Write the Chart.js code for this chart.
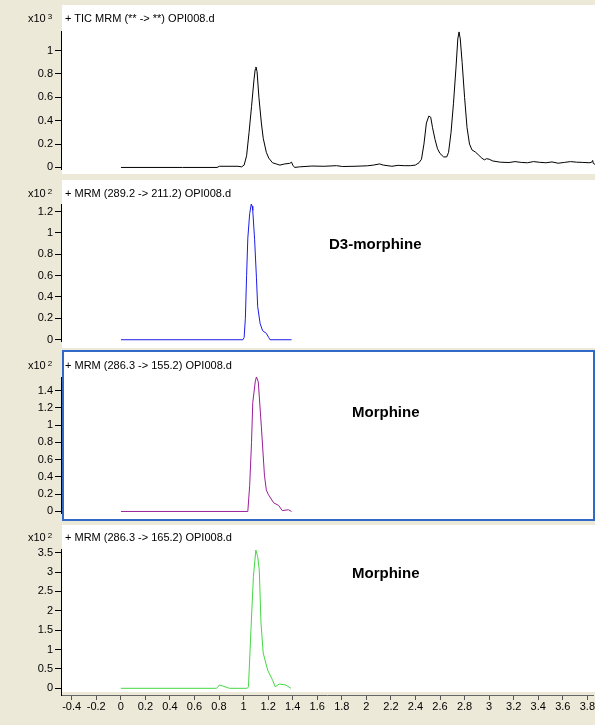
<!DOCTYPE html>
<html>
<head>
<meta charset="utf-8">
<script src="https://cdn.jsdelivr.net/npm/chart.js@4.4.1/dist/chart.umd.min.js"></script>
<style>
html,body{margin:0;padding:0;background:#ECE9D8;width:595px;height:725px;overflow:hidden;position:relative;}
canvas{position:absolute;left:0;}
.t{position:absolute;font:11px "Liberation Sans",Arial,sans-serif;color:#000;white-space:nowrap;line-height:13px;}
.t sup{font-size:8px;vertical-align:top;position:relative;top:-2px;margin-left:2px;}
.b{position:absolute;font:bold 15px "Liberation Sans",Arial,sans-serif;color:#000;white-space:nowrap;line-height:18px;}
</style>
</head>
<body>
<canvas id="c1" width="595" height="178" style="top:0px"></canvas>
<canvas id="c2" width="595" height="172" style="top:178px"></canvas>
<canvas id="c3" width="595" height="174" style="top:348px"></canvas>
<canvas id="c4" width="595" height="203" style="top:522px"></canvas>

<div class="t" style="left:28px;top:12px">x10<sup>3</sup></div>
<div class="t" style="left:65px;top:12px">+ TIC MRM (** -&gt; **) OPI008.d</div>
<div class="t" style="left:28px;top:187px">x10<sup>2</sup></div>
<div class="t" style="left:65px;top:187px">+ MRM (289.2 -&gt; 211.2) OPI008.d</div>
<div class="t" style="left:28px;top:359px">x10<sup>2</sup></div>
<div class="t" style="left:65px;top:359px">+ MRM (286.3 -&gt; 155.2) OPI008.d</div>
<div class="t" style="left:28px;top:531px">x10<sup>2</sup></div>
<div class="t" style="left:65px;top:531px">+ MRM (286.3 -&gt; 165.2) OPI008.d</div>
<div class="b" style="left:329px;top:235px">D3-morphine</div>
<div class="b" style="left:352px;top:403px">Morphine</div>
<div class="b" style="left:352px;top:564px">Morphine</div>

<script>
// ---- data (retention time in min, abundance in x10^n counts) ----
const ticX = [0, 0.5, 0.78, 0.8, 0.95, 0.98, 1.0, 1.02, 1.04, 1.06, 1.08, 1.09, 1.096, 1.105, 1.12, 1.14, 1.155, 1.18, 1.2, 1.23, 1.26, 1.29, 1.33, 1.37, 1.385, 1.395, 1.41,
  1.45, 1.55, 1.65, 1.75, 1.8, 1.9, 1.95, 2.0, 2.05, 2.1, 2.13, 2.2, 2.25, 2.3, 2.35, 2.39, 2.42, 2.44, 2.46, 2.48, 2.5, 2.515, 2.53, 2.55, 2.57, 2.59, 2.62, 2.645,
  2.66, 2.68, 2.7, 2.72, 2.735, 2.745, 2.755, 2.77, 2.79, 2.81, 2.83, 2.85, 2.88, 2.9, 2.93, 2.95, 2.97, 2.99, 3.02, 3.08, 3.15, 3.2, 3.25, 3.3, 3.35, 3.4, 3.45,
  3.5, 3.55, 3.6, 3.65, 3.7, 3.75, 3.8, 3.82, 3.83, 3.835, 3.85];
const ticY = [0, 0, 0, 0.01, 0.01, 0.005, 0.02, 0.1, 0.3, 0.52, 0.75, 0.84, 0.86, 0.82, 0.6, 0.38, 0.25, 0.13, 0.08, 0.04, 0.03, 0.02, 0.03, 0.035, 0.045, 0.02, 0.0,
  0.005, 0.012, 0.01, 0.015, 0.008, 0.01, 0.012, 0.014, 0.02, 0.03, 0.02, 0.01, 0.018, 0.015, 0.015, 0.02, 0.04, 0.07, 0.2, 0.38, 0.44, 0.43, 0.34, 0.24, 0.16, 0.12, 0.09, 0.09,
  0.13, 0.3, 0.55, 0.85, 1.1, 1.16, 1.1, 0.9, 0.6, 0.34, 0.2, 0.15, 0.13, 0.11, 0.08, 0.065, 0.075, 0.07, 0.055, 0.045, 0.042, 0.05, 0.043, 0.04, 0.05, 0.044, 0.04,
  0.047, 0.036, 0.043, 0.05, 0.045, 0.043, 0.04, 0.043, 0.06, 0.035, 0.025];

const d3X = [0, 0.99, 1.0, 1.01, 1.02, 1.03, 1.045, 1.058, 1.065, 1.07, 1.085, 1.1, 1.11, 1.13, 1.15, 1.18, 1.2, 1.21, 1.385];
const d3Y = [0, 0, 0.02, 0.2, 0.6, 0.95, 1.18, 1.27, 1.25, 1.21, 0.94, 0.58, 0.31, 0.15, 0.085, 0.06, 0.02, 0, 0];

const m155X = [0, 1.03, 1.045, 1.06, 1.07, 1.09, 1.1, 1.115, 1.14, 1.165, 1.18, 1.195, 1.24, 1.28, 1.31, 1.36, 1.385];
const m155Y = [0, 0, 0.3, 0.8, 1.26, 1.5, 1.56, 1.5, 0.98, 0.42, 0.25, 0.2, 0.1, 0.07, 0.01, 0.02, 0];

const m165X = [0, 0.78, 0.804, 0.83, 0.885, 1.03, 1.04, 1.06, 1.08, 1.1, 1.115, 1.128, 1.142, 1.16, 1.196, 1.236, 1.258, 1.29, 1.345, 1.385];
const m165Y = [0, 0, 0.085, 0.06, 0, 0, 0.04, 1.5, 2.88, 3.57, 3.4, 3.05, 1.68, 0.91, 0.47, 0.21, 0.04, 0.11, 0.085, 0];

// ---- tick labels ----
const xTicks = [-0.4, -0.2, 0, 0.2, 0.4, 0.6, 0.8, 1, 1.2, 1.4, 1.6, 1.8, 2, 2.2, 2.4, 2.6, 2.8, 3, 3.2, 3.4, 3.6, 3.8];
const yTicks1 = [0, 0.2, 0.4, 0.6, 0.8, 1];
const yTicks2 = [0, 0.2, 0.4, 0.6, 0.8, 1, 1.2];
const yTicks3 = [0, 0.2, 0.4, 0.6, 0.8, 1, 1.2, 1.4];
const yTicks4 = [0, 0.5, 1, 1.5, 2, 2.5, 3, 3.5];

const FONT = {family: '"Liberation Sans", Arial, sans-serif', size: 11};
const fmt = v => String(Math.round(v * 10) / 10);

const panelBg = {
  id: 'panelBg',
  beforeDraw(chart, args, o) {
    const ctx = chart.ctx;
    ctx.save();
    ctx.fillStyle = '#ffffff';
    ctx.fillRect(o.left, o.top, o.right - o.left, o.bottom - o.top);
    ctx.restore();
  },
  afterDraw(chart, args, o) {
    if (!o.border) return;
    const ctx = chart.ctx;
    ctx.save();
    ctx.strokeStyle = o.border;
    ctx.lineWidth = 2;
    ctx.strokeRect(o.left + 1, o.top + 1, o.right - o.left - 2, o.bottom - o.top - 2);
    ctx.restore();
  }
};

function yScale(min, max, ticks) {
  return {
    type: 'linear', min: min, max: max,
    afterBuildTicks: s => { s.ticks = ticks.map(v => ({value: v})); },
    afterFit: s => { s.width = 61; },
    ticks: {color: '#000', font: FONT, padding: 2, callback: v => fmt(v)},
    grid: {drawOnChartArea: false, drawTicks: true, tickLength: 6, color: '#000'},
    border: {display: true, color: '#000', width: 1}
  };
}

function xScale(show) {
  const s = {type: 'linear', min: -0.487, max: 3.849, display: show};
  if (show) {
    Object.assign(s, {
      afterBuildTicks: sc => { sc.ticks = xTicks.map(v => ({value: v})); },
      afterFit: sc => { sc.height = 20; },
      ticks: {color: '#000', font: FONT, padding: 0, autoSkip: false, maxRotation: 0, callback: v => fmt(v)},
      grid: {drawOnChartArea: false, drawTicks: true, tickLength: 5, color: '#555'},
      border: {display: true, color: '#666', width: 1}
    });
  }
  return s;
}

function makeChart(id, xs, ys, color, yMin, yMax, yT, pad, bg, showX) {
  return new Chart(document.getElementById(id), {
    type: 'line',
    data: {datasets: [{data: xs.map((x, i) => ({x: x, y: ys[i]})), borderColor: color, borderWidth: 1, pointRadius: 0, tension: 0, fill: false}]},
    options: {
      responsive: false, animation: false, devicePixelRatio: 1,
      layout: {autoPadding: false, padding: {top: pad[0], bottom: pad[1], left: 0, right: 0}},
      scales: {x: xScale(showX), y: yScale(yMin, yMax, yT)},
      plugins: {legend: {display: false}, tooltip: {enabled: false}, panelBg: bg}
    },
    plugins: [panelBg]
  });
}

makeChart('c1', ticX, ticY, '#000000', -0.0168, 1.168, yTicks1, [31, 6], {left: 62, right: 595, top: 5, bottom: 174}, false);
makeChart('c2', d3X, d3Y, '#1c1ce8', -0.0155, 1.27, yTicks2, [26, 5], {left: 62, right: 595, top: 2, bottom: 170}, false);
makeChart('c3', m155X, m155Y, '#9a1f9a', -0.0224, 1.557, yTicks3, [29, 4], {left: 62, right: 595, top: 2, bottom: 173, border: '#3169c6'}, false);
makeChart('c4', m165X, m165Y, '#44d844', -0.173, 3.596, yTicks4, [27, 10], {left: 62, right: 595, top: 3, bottom: 170}, true);
</script>
</body>
</html>
